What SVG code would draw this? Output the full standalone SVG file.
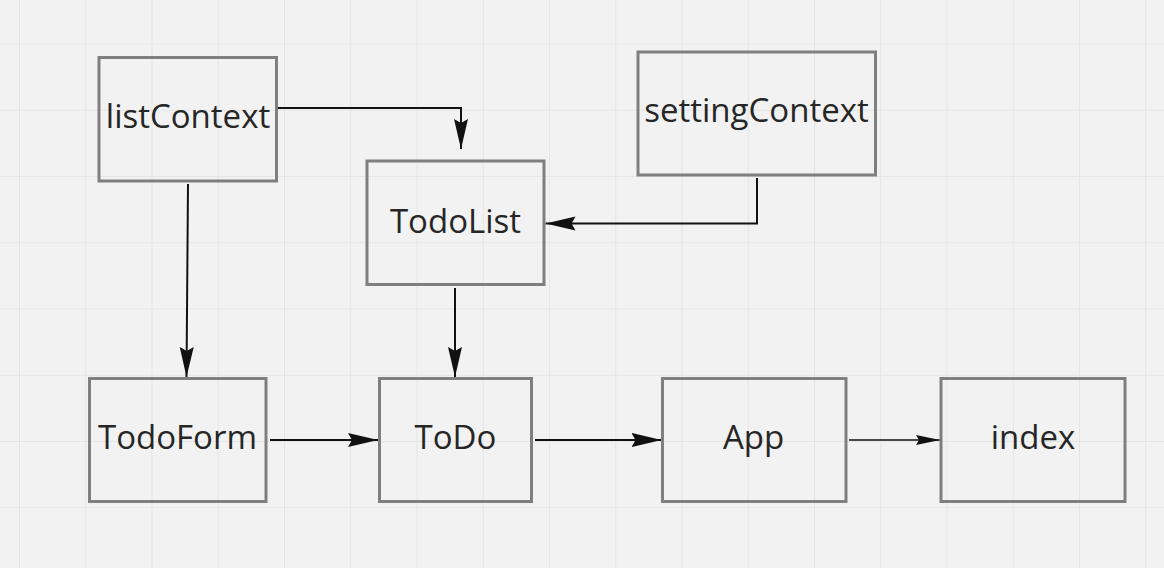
<svg xmlns="http://www.w3.org/2000/svg" width="1164" height="568" viewBox="0 0 1164 568">
  <style>
    .box { fill: none; stroke: #7f7f7f; stroke-width: 3; }
    .lbl { font-family: "Open Sans", "Noto Sans", sans-serif; font-size: 33px; fill: #262626; text-anchor: middle; }
    .conn { fill: none; stroke: #111; stroke-width: 2; }
    .thin { stroke-width: 1.6; }
  </style>
  <defs>
    <pattern id="grid" patternUnits="userSpaceOnUse" x="19" y="43.5" width="66.25" height="66.25">
      <path d="M0,0.5 H66.25 M0.5,0 V66.25" fill="none" stroke="#e5e5e5" stroke-width="1"/>
    </pattern>
    <marker id="arr" markerUnits="userSpaceOnUse" markerWidth="31" markerHeight="15" refX="30" refY="7.5" orient="auto">
      <path d="M0,0.5 L30,7.5 L0,14.5 L4,7.5 z" fill="#111"/>
    </marker>
    <marker id="arrs" markerUnits="userSpaceOnUse" markerWidth="26" markerHeight="11" refX="24" refY="5.5" orient="auto">
      <path d="M0,0.5 L24,5.5 L0,10.5 L3,5.5 z" fill="#111"/>
    </marker>
  </defs>
  <rect width="1164" height="568" fill="#f2f2f2"/>
  <rect width="1164" height="568" fill="url(#grid)"/>

  <g id="connectors">
    <path class="conn" d="M277,108 H461 V149" marker-end="url(#arr)"/>
    <path class="conn" d="M757,178 V223.5 H545.5" marker-end="url(#arr)"/>
    <path class="conn" d="M188,184 L186.5,377" marker-end="url(#arr)"/>
    <path class="conn" d="M455,288 V377" marker-end="url(#arr)"/>
    <path class="conn" d="M270,440 H378" marker-end="url(#arr)"/>
    <path class="conn" d="M535,440 H661.5" marker-end="url(#arr)"/>
    <path class="conn thin" d="M849,440 H940" marker-end="url(#arrs)"/>
  </g>

  <g id="listContext">
    <rect class="box" x="99" y="57.5" width="177.5" height="123.5"/>
    <text class="lbl" x="188" y="128">listContext</text>
  </g>
  <g id="TodoList">
    <rect class="box" x="367" y="161" width="177" height="123.5"/>
    <text class="lbl" x="455.5" y="232.5">TodoList</text>
  </g>
  <g id="settingContext">
    <rect class="box" x="638" y="52" width="237.5" height="123"/>
    <text class="lbl" x="756.5" y="121.5">settingContext</text>
  </g>
  <g id="TodoForm">
    <rect class="box" x="89.5" y="378.5" width="176.5" height="123"/>
    <text class="lbl" x="177.5" y="449">TodoForm</text>
  </g>
  <g id="ToDo">
    <rect class="box" x="379.5" y="378.5" width="152" height="123"/>
    <text class="lbl" x="455.5" y="449">ToDo</text>
  </g>
  <g id="App">
    <rect class="box" x="662.5" y="378.5" width="183.5" height="123"/>
    <text class="lbl" x="753.5" y="449">App</text>
  </g>
  <g id="index">
    <rect class="box" x="941" y="378.5" width="184" height="123"/>
    <text class="lbl" x="1033" y="449">index</text>
  </g>
</svg>
